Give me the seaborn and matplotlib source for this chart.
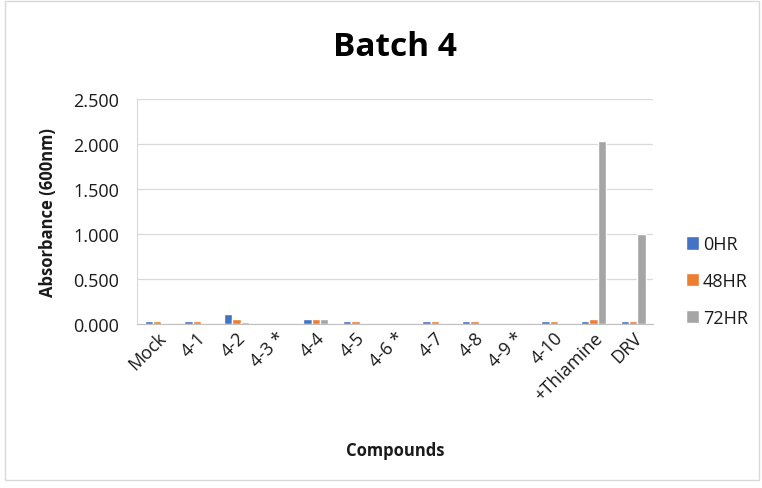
import pandas as pd
import seaborn as sns
from matplotlib import pyplot as plt
from matplotlib.patches import Rectangle
from matplotlib.ticker import FormatStrFormatter, FixedLocator

# data
compounds = ["Mock", "4-1", "4-2", "4-3 *", "4-4", "4-5", "4-6 *",
             "4-7", "4-8", "4-9 *", "4-10", "+Thiamine", "DRV"]
hr0 = [0.035, 0.035, 0.110, 0.0, 0.055, 0.035, 0.0, 0.035, 0.035, 0.0, 0.035, 0.030, 0.035]
hr48 = [0.035, 0.035, 0.055, 0.0, 0.055, 0.035, 0.0, 0.035, 0.035, 0.0, 0.035, 0.060, 0.035]
hr72 = [0.0, 0.0, 0.025, 0.0, 0.055, 0.0, 0.0, 0.0, 0.0, 0.0, 0.0, 2.035, 1.000]
series = ["0HR", "48HR", "72HR"]
colors = ["#4472C4", "#ED7D31", "#A5A5A5"]

df = pd.DataFrame({
    "Compound": compounds * 3,
    "Time": [s for s in series for _ in compounds],
    "Absorbance": hr0 + hr48 + hr72,
})

sns.set_style("white")
plt.rcParams['font.family'] = ['Open Sans', 'DejaVu Sans']

fig = plt.figure(figsize=(7.62, 4.89), dpi=100)
ax = fig.add_axes([0.18, 0.335, 0.677, 0.46])

sns.barplot(data=df, x="Compound", y="Absorbance", hue="Time",
            palette=colors, saturation=1, width=0.63, ax=ax, legend=True)

ax.set_ylim(0, 2.5)
ax.set_yticks([0, 0.5, 1.0, 1.5, 2.0, 2.5])
ax.yaxis.set_major_formatter(FormatStrFormatter('%.3f'))
ax.grid(axis='y', color='#d9d9d9', linewidth=0.9)
ax.set_axisbelow(True)
ax.set_xlim(-0.5, len(compounds) - 0.5)

for side in ['top', 'right']:
    ax.spines[side].set_visible(False)
ax.spines['bottom'].set_color('#bfbfbf')
ax.spines['left'].set_color('#d9d9d9')

ax.xaxis.set_minor_locator(FixedLocator([i - 0.5 for i in range(len(compounds) + 1)]))
ax.tick_params(axis='x', which='minor', length=5, color='#bfbfbf', width=0.9)
ax.tick_params(axis='x', which='major', length=0, pad=3)
ax.tick_params(axis='y', length=5, width=0.9, color='#d9d9d9', pad=8,
               labelsize=13, labelcolor='#1a1a1a')
plt.setp(ax.get_xticklabels(), rotation=45, ha='right', rotation_mode='anchor',
         fontsize=13, color='#1a1a1a')

ax.set_xlabel("Compounds", fontsize=12, fontweight='bold', color='#1a1a1a')
ax.xaxis.set_label_coords(0.5, -0.52)
ax.set_ylabel("Absorbance (600nm)", fontsize=12, fontweight='bold', color='#1a1a1a')
ax.yaxis.set_label_coords(-0.155, 0.5)
fig.text(0.518, 0.902, "Batch 4", ha='center', va='center', fontsize=24,
         fontweight='bold', color='#000000')

handles, labels = ax.get_legend_handles_labels()
ax.legend_.remove()
fig.legend(handles, labels, loc='center left', bbox_to_anchor=(0.9, 0.423),
           frameon=False, fontsize=13, handlelength=0.75, handleheight=0.75,
           handletextpad=0.2, labelspacing=1.05, borderpad=0, borderaxespad=0,
           labelcolor='#1a1a1a')

fig.patches.append(Rectangle((0.006, 0.016), 0.99, 0.98, transform=fig.transFigure,
                             fill=False, edgecolor='#d9d9d9', linewidth=1))

fig.savefig("out.png", dpi=100)
